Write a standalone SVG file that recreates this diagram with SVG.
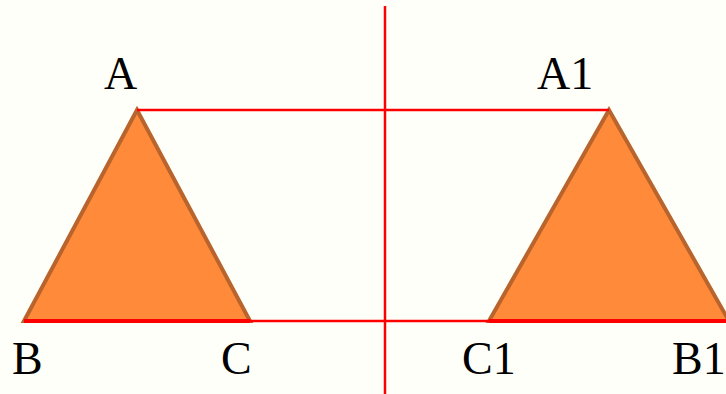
<svg xmlns="http://www.w3.org/2000/svg" width="726" height="394" viewBox="0 0 726 394">
<style>
.tri{fill:#FF8A3A;stroke:#B8642C;stroke-width:4;stroke-linejoin:miter}
.lbl{font-family:"Liberation Serif","Times New Roman",serif;font-size:46px;fill:#000}
.thin{stroke:#FF0000;stroke-width:2.5;fill:none}
.base{stroke:#FF0000;stroke-width:4;fill:none}
</style>
<rect width="726" height="394" fill="#FFFFF9"/>
<g id="triangle-ABC">
<polygon class="tri" points="137,110 24,321 250,321"/>
</g>
<g id="triangle-A1B1C1">
<polygon class="tri" points="609,110 489,321 729,321"/>
</g>
<g id="connectors">
<line class="thin" x1="385" y1="6" x2="385" y2="394"/>
<line class="thin" x1="137" y1="110" x2="609" y2="110"/>
<line class="thin" x1="250" y1="321" x2="489" y2="321"/>
<line class="base" x1="24" y1="321" x2="250" y2="321"/>
<line class="base" x1="489" y1="321" x2="726" y2="321"/>
</g>
<g id="labels">
<text class="lbl" x="104" y="89">A</text>
<text class="lbl" x="12" y="374">B</text>
<text class="lbl" x="221" y="374">C</text>
<text class="lbl" x="537" y="89">A1</text>
<text class="lbl" x="462" y="374">C1</text>
<text class="lbl" x="672" y="374">B1</text>
</g>
</svg>
